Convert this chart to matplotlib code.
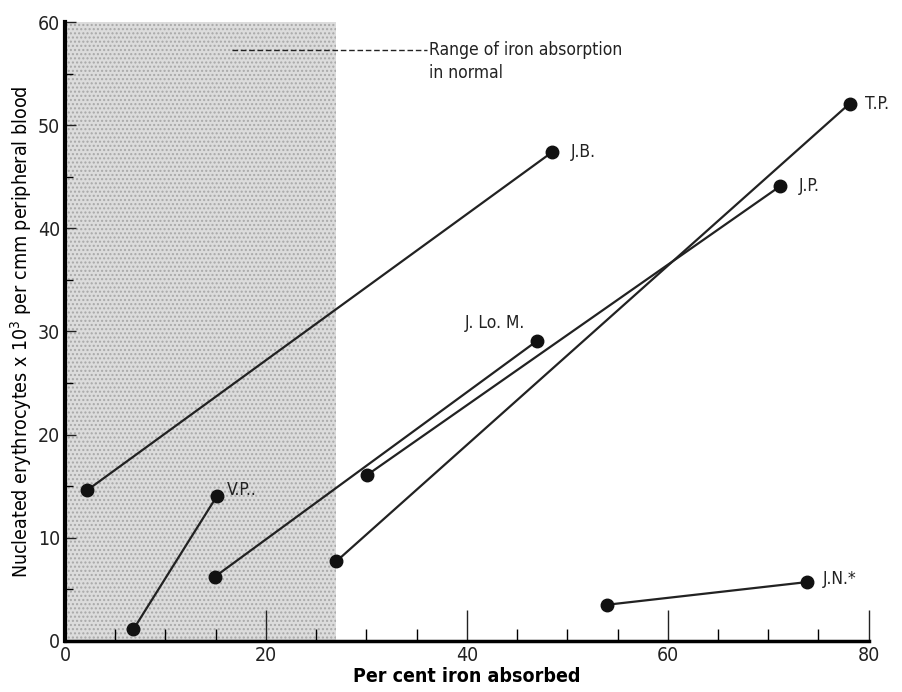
import matplotlib
matplotlib.use("Agg")
import matplotlib.pyplot as plt
from matplotlib.ticker import MultipleLocator

# patients: (x start, y start), (x end, y end)
names = ["J.B.", "V.P..", "J. Lo. M.", "J.P.", "T.P.", "J.N.*"]
x_start = [2.2, 6.8, 14.9, 30.1, 27.0, 54.0]
y_start = [14.6, 1.1, 6.2, 16.1, 7.7, 3.5]
x_end = [48.5, 15.1, 47.0, 71.2, 78.1, 73.9]
y_end = [47.4, 14.0, 29.1, 44.1, 52.1, 5.7]

normal_range = [0, 27.0]

plt.rcParams['font.family'] = ['DejaVu Sans']
plt.rcParams['font.stretch'] = 'condensed'

fig = plt.figure(figsize=(9.03, 6.92), dpi=100)
ax = fig.add_axes([0.072, 0.074, 0.890, 0.894])

ax.axvspan(normal_range[0], normal_range[1], facecolor="#dcdcdc", edgecolor="#a8a8a8",
           hatch="....", linewidth=0, zorder=0)

for i, n in enumerate(names):
    ax.plot([x_start[i], x_end[i]], [y_start[i], y_end[i]], color="#222222", lw=1.6, zorder=2)
    ax.plot([x_start[i], x_end[i]], [y_start[i], y_end[i]], "o", color="#111111", ms=9, zorder=3)

label_pos = {
    "J.B.": (x_end[0] + 1.8, y_end[0], "left"),
    "V.P..": (x_end[1] + 1.0, y_end[1] + 0.6, "left"),
    "J. Lo. M.": (x_end[2] - 1.2, y_end[2] + 1.7, "right"),
    "J.P.": (x_end[3] + 1.8, y_end[3], "left"),
    "T.P.": (x_end[4] + 1.5, y_end[4], "left"),
    "J.N.*": (x_end[5] + 1.5, y_end[5] + 0.3, "left"),
}
for n in names:
    lx, ly, ha = label_pos[n]
    ax.text(lx, ly, n, fontsize=12.5, ha=ha, va="center", color="#222222")

ax.plot([16.6, 36.0], [57.3, 57.3], color="#222222", ls=(0, (4, 2)), lw=1.0)
ax.text(36.2, 58.2, "Range of iron absorption\nin normal", fontsize=12.5, ha="left",
        va="top", color="#222222", linespacing=1.35)

ax.set_xlim(0, 80)
ax.set_ylim(0, 60)
ax.xaxis.set_major_locator(MultipleLocator(20))
ax.xaxis.set_minor_locator(MultipleLocator(5))
ax.yaxis.set_major_locator(MultipleLocator(10))
ax.yaxis.set_minor_locator(MultipleLocator(5))
ax.tick_params(axis="both", which="major", direction="in", length=22, width=1.0,
               labelsize=14, colors="#222222")
ax.tick_params(axis="both", which="minor", direction="in", length=9, width=1.0)
ax.tick_params(axis="y", which="major", length=8)
ax.tick_params(axis="y", which="minor", length=6)

for s in ["top", "right"]:
    ax.spines[s].set_visible(False)
ax.spines["left"].set_linewidth(3)
ax.spines["bottom"].set_linewidth(2.5)

ax.set_xlabel("Per cent iron absorbed", fontsize=14, fontweight="bold", labelpad=2)
ax.set_ylabel(r"Nucleated erythrocytes x 10$^3$ per cmm peripheral blood", fontsize=14,
              labelpad=3)

fig.savefig("out.png", dpi=100)
